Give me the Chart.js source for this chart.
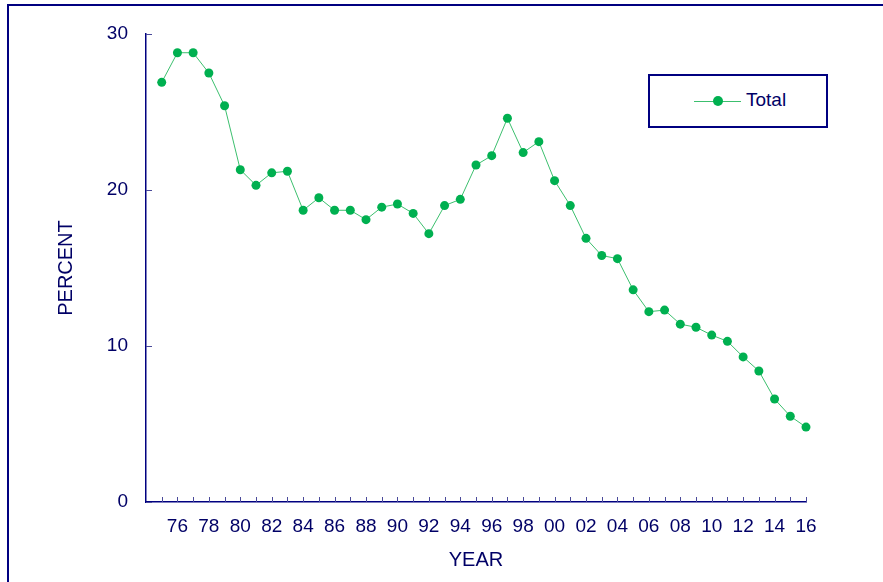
<!DOCTYPE html>
<html>
<head>
<meta charset="utf-8">
<title>Percent by year</title>
<style>
    html, body { margin: 0; padding: 0; background: #fff; overflow: hidden; }
    #wrap { position: relative; width: 883px; height: 582px; }
    #frame { position: absolute; left: 7px; top: 4px; width: 1000px; height: 1000px;
             border-left: 2px solid #000080; border-top: 2px solid #000080; }
    #legend { position: absolute; left: 648px; top: 74px; width: 176px; height: 50px;
              border: 2px solid #000080; background: #fff; }
    #legend .line { position: absolute; left: 44px; top: 25px; width: 47px; height: 1px; background: #3cbf6e; }
    #legend .dot { position: absolute; left: 63px; top: 20px; width: 10px; height: 10px; border-radius: 50%; background: #00b050; }
    #legend .txt { position: absolute; left: 96px; top: 13px; font: 19px "Liberation Sans", Arial, sans-serif; color: #000066; }
    canvas { position: absolute; left: 0; top: 0; }
</style>
</head>
<body>
<div id="wrap">
    <canvas id="chart" width="883" height="582"></canvas>
    <div id="frame"></div>
    <div id="legend"><span class="line"></span><span class="dot"></span><span class="txt">Total</span></div>
</div>
<script src="https://cdn.jsdelivr.net/npm/chart.js"></script>
<script>
    const years = [1975, 1976, 1977, 1978, 1979, 1980, 1981, 1982, 1983, 1984,
        1985, 1986, 1987, 1988, 1989, 1990, 1991, 1992, 1993, 1994,
        1995, 1996, 1997, 1998, 1999, 2000, 2001, 2002, 2003, 2004,
        2005, 2006, 2007, 2008, 2009, 2010, 2011, 2012, 2013, 2014,
        2015, 2016];
    const totals = [26.9, 28.8, 28.8, 27.5, 25.4, 21.3, 20.3, 21.1, 21.2, 18.7,
        19.5, 18.7, 18.7, 18.1, 18.9, 19.1, 18.5, 17.2, 19.0, 19.4,
        21.6, 22.2, 24.6, 22.4, 23.1, 20.6, 19.0, 16.9, 15.8, 15.6,
        13.6, 12.2, 12.3, 11.4, 11.2, 10.7, 10.3, 9.3, 8.4, 6.6,
        5.5, 4.8];
    const yTickValues = [0, 10, 20, 30];

    const navy = '#000080';
    const textColor = '#000066';
    const font = {family: '"Liberation Sans", Arial, sans-serif', size: 19};

    // small tick marks drawn inside the plot, like the original
    const innerTicks = {
        id: 'innerTicks',
        afterDraw(chart) {
            const {ctx, scales: {x, y}} = chart;
            ctx.save();
            ctx.strokeStyle = '#4a4a9a';
            ctx.lineWidth = 1;
            ctx.beginPath();
            years.forEach(yr => {
                const px = Math.round(x.getPixelForValue(yr)) + 0.5;
                ctx.moveTo(px, y.bottom);
                ctx.lineTo(px, y.bottom - 5);
            });
            yTickValues.forEach(v => {
                const py = Math.round(y.getPixelForValue(v)) + 0.5;
                ctx.moveTo(x.left, py);
                ctx.lineTo(x.left + 6, py);
            });
            ctx.stroke();
            ctx.restore();
        }
    };

    new Chart(document.getElementById('chart'), {
        type: 'line',
        data: {
            datasets: [{
                label: 'Total',
                data: years.map((yr, i) => ({x: yr, y: totals[i]})),
                borderColor: '#3cbf6e',
                borderWidth: 1,
                pointBackgroundColor: '#00b050',
                pointBorderColor: '#00b050',
                pointRadius: 4.5,
                pointBorderWidth: 0,
                tension: 0,
                clip: false
            }]
        },
        options: {
            responsive: false,
            animation: false,
            layout: {padding: {top: 34, right: 77, bottom: 0, left: 0}},
            plugins: {legend: {display: false}, tooltip: {enabled: false}},
            scales: {
                x: {
                    type: 'linear',
                    min: 1974,
                    max: 2016,
                    grid: {display: false},
                    border: {color: navy, width: 1.5},
                    afterFit: scale => { scale.height = 80; },
                    ticks: {
                        stepSize: 2,
                        autoSkip: false,
                        maxRotation: 0,
                        padding: 5,
                        color: textColor,
                        font: font,
                        callback: v => v < 1976 ? '' : String(v % 100).padStart(2, '0')
                    },
                    title: {display: true, text: 'YEAR', color: textColor,
                        font: {family: font.family, size: 20}, padding: {top: 0, bottom: 10}}
                },
                y: {
                    min: 0,
                    max: 30,
                    grid: {display: false},
                    border: {color: navy, width: 1.5},
                    afterFit: scale => { scale.width = 146; },
                    ticks: {stepSize: 10, padding: 10, color: textColor, font: font},
                    title: {display: true, text: 'PERCENT', color: textColor,
                        font: {family: font.family, size: 20}, padding: {top: 54, bottom: 0}}
                }
            }
        },
        plugins: [innerTicks]
    });
</script>
</body>
</html>
